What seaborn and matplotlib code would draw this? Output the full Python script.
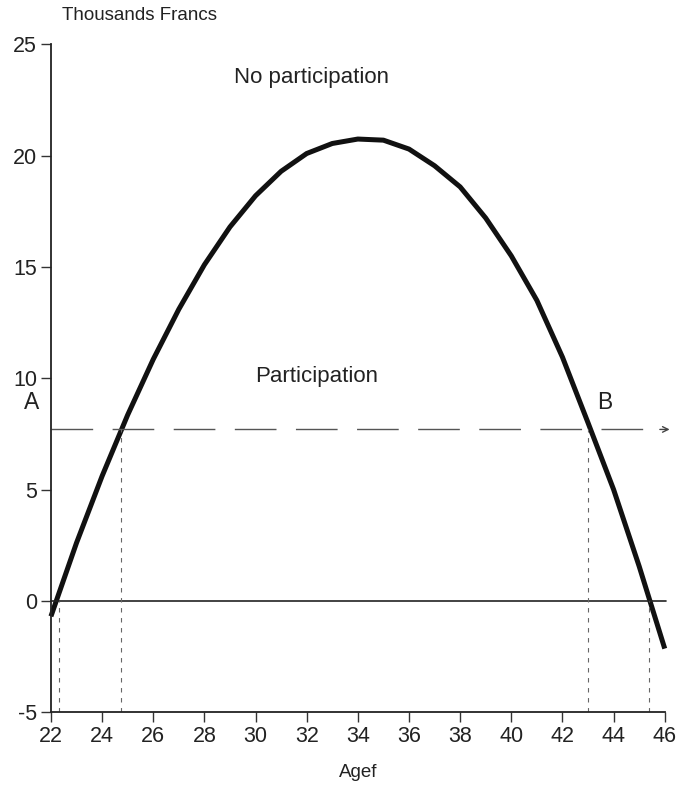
import matplotlib
matplotlib.use("Agg")
import matplotlib.pyplot as plt
import seaborn as sns
import pandas as pd

# curve (thousands of francs by age of wife)
agef = [22, 23, 24, 25, 26, 27, 28, 29, 30, 31, 32, 33, 34,
        35, 36, 37, 38, 39, 40, 41, 42, 43, 44, 45, 46]
francs = [-0.7, 2.6, 5.6, 8.35, 10.85, 13.1, 15.1, 16.8, 18.2, 19.3, 20.1, 20.55, 20.75,
          20.7, 20.3, 19.55, 18.6, 17.2, 15.5, 13.5, 10.95, 8.0, 5.0, 1.55, -2.15]

threshold = 7.7
cut_ages = [22.3, 24.75, 43.0, 45.4]
cut_tops = [0.0, 7.7, 7.7, 0.0]

x_ticks = list(range(22, 47, 2))
y_ticks = [-5, 0, 5, 10, 15, 20, 25]

df = pd.DataFrame({"Agef": agef, "Francs": francs})

sns.set_style("ticks")
plt.rcParams["font.family"] = ["Liberation Sans", "DejaVu Sans"]
plt.rcParams["axes.unicode_minus"] = False

fig = plt.figure(figsize=(6.79, 7.90), dpi=100)
ax = fig.add_axes([0.075, 0.0987, 0.904, 0.845])

sns.lineplot(data=df, x="Agef", y="Francs", color="#111111", linewidth=3.6,
             ax=ax, clip_on=False, solid_capstyle="butt", solid_joinstyle="round")

# zero line
ax.plot([22, 46.05], [0, 0], color="#222222", lw=1.2, clip_on=False)

# threshold line with arrow
ax.plot([22, 45.6], [threshold, threshold], color="#555555", lw=1.0,
        dashes=(30, 14), clip_on=False)
ax.annotate("", xy=(46.3, threshold), xytext=(45.7, threshold),
            arrowprops=dict(arrowstyle="->", color="#444444", lw=1.0),
            annotation_clip=False)

# vertical dashed guides
for xa, ya in zip(cut_ages, cut_tops):
    ax.plot([xa, xa], [-5, ya], color="#666666", lw=0.8, dashes=(4, 5))

ax.set_xlim(22, 46)
ax.set_ylim(-5, 25)
ax.set_xticks(x_ticks)
ax.set_yticks(y_ticks)
ax.tick_params(axis="both", labelsize=15.5, length=7, width=1.0, color="#333333",
               labelcolor="#222222", pad=3)
for s in ["top", "right"]:
    ax.spines[s].set_visible(False)
for s in ["left", "bottom"]:
    ax.spines[s].set_linewidth(1.3)
    ax.spines[s].set_color("#222222")

ax.set_xlabel("Agef", fontsize=13.5, color="#222222", labelpad=12)
ax.set_ylabel("")
ax.text(22.45, 26.3, "Thousands Francs", fontsize=13.5, color="#222222",
        ha="left", va="center")

ax.text(32.2, 23.5, "No participation", fontsize=16, color="#222222",
        ha="center", va="center")
ax.text(32.4, 10.1, "Participation", fontsize=16, color="#222222",
        ha="center", va="center")
ax.text(21.25, 8.9, "A", fontsize=16.5, color="#222222", ha="center", va="center")
ax.text(43.65, 8.9, "B", fontsize=16.5, color="#222222", ha="center", va="center")

fig.savefig("out.png", dpi=100, facecolor="white")
